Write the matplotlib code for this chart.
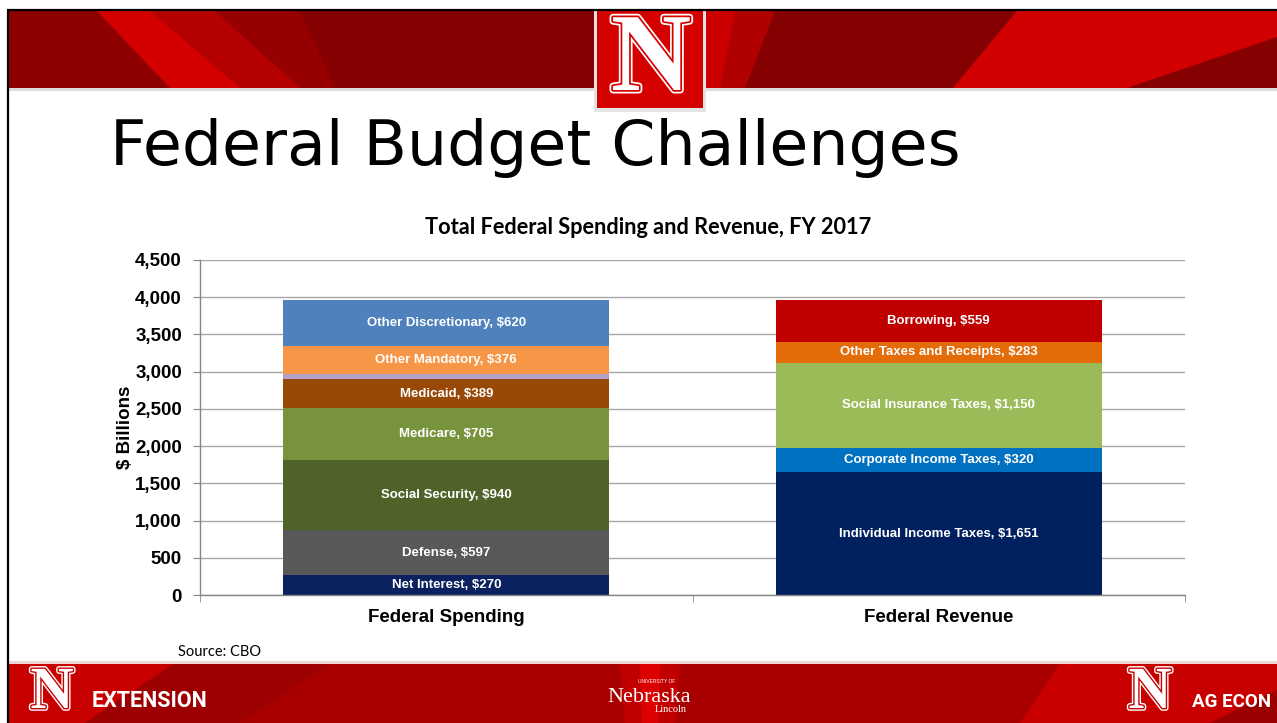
"""Federal Budget Challenges slide: stacked spending vs revenue, FY 2017."""
import numpy as np
import matplotlib.pyplot as plt
import matplotlib.patheffects as pe
from matplotlib.patches import Rectangle, Polygon
from matplotlib.ticker import FuncFormatter

plt.rcParams.update({
    'font.family': ['Liberation Sans', 'DejaVu Sans'],
    'font.size': 12,
    'figure.dpi': 100,
})

# ---------- data (billions of dollars) ----------
categories = ['Federal Spending', 'Federal Revenue']

spend_names = ['Net Interest', 'Defense', 'Social Security', 'Medicare',
               'Medicaid', '', 'Other Mandatory', 'Other Discretionary']
spend_values = [270, 597, 940, 705, 389, 66, 376, 620]
spend_colors = ['#0b2160', '#595959', '#4f6228', '#77933c',
                '#984807', '#b3a2c7', '#f79646', '#4f81bd']

rev_names = ['Individual Income Taxes', 'Corporate Income Taxes',
             'Social Insurance Taxes', 'Other Taxes and Receipts', 'Borrowing']
rev_values = [1651, 320, 1150, 283, 559]
rev_colors = ['#002060', '#0070c0', '#9bbb59', '#e36c09', '#c00000']

y_ticks = [0, 500, 1000, 1500, 2000, 2500, 3000, 3500, 4000, 4500]

W, H = 1277, 723
fig = plt.figure(figsize=(W / 100, H / 100), dpi=100)
fig.patch.set_facecolor('white')

# ---------- slide background (pixel coordinates, y down) ----------
bg = fig.add_axes([0, 0, 1, 1], zorder=0)
bg.set_xlim(0, W)
bg.set_ylim(H, 0)
bg.axis('off')

# header band
bg.add_patch(Rectangle((9, 11), W - 9, 77, color='#850000', lw=0))
bg.add_patch(Polygon([(9, 11), (97, 11), (170, 88), (9, 88)], color='#8e0000', lw=0))
bg.add_patch(Polygon([(200, 11), (300, 11), (335, 88), (290, 88)], color='#960000', lw=0))
bg.add_patch(Polygon([(140, 11), (215, 11), (300, 88), (230, 88)], color='#b40000', lw=0))
bg.add_patch(Polygon([(97, 11), (150, 11), (240, 88), (170, 88)], color='#d40000', lw=0))
bg.add_patch(Polygon([(703, 11), (775, 11), (745, 88), (703, 88)], color='#b00000', lw=0))
bg.add_patch(Polygon([(703, 11), (735, 11), (720, 88), (703, 88)], color='#cc0000', lw=0))
bg.add_patch(Polygon([(1017, 11), (W, 11), (W, 37), (1127, 88), (953, 88)],
                     color='#d20000', lw=0))
bg.add_patch(Rectangle((9, 88), W - 9, 2.5, color='#dcdcdc', lw=0))

# slide frame lines
bg.plot([7, W], [10, 10], color='black', lw=1.6, solid_capstyle='butt')
bg.plot([8, 8], [10, H], color='black', lw=1.6, solid_capstyle='butt')

# top N logo
bg.add_patch(Rectangle((594, 11), 112, 101, color='#e4e4e4', lw=0))
bg.add_patch(Rectangle((597, 11), 106, 97, color='#d50000', lw=0))
bg.text(651, 63, 'N', family=['Liberation Serif', 'DejaVu Serif'], weight='bold',
        fontsize=80, color='white', ha='center', va='center',
        path_effects=[pe.Stroke(linewidth=5, foreground='white'),
                      pe.Stroke(linewidth=2.5, foreground='#d50000'),
                      pe.Normal()])

# footer band
bg.add_patch(Rectangle((9, 663), W - 9, H - 663, color='#a80000', lw=0))
bg.add_patch(Polygon([(9, 663), (175, 663), (85, H), (9, H)], color='#c80000', lw=0))
bg.add_patch(Polygon([(175, 663), (330, 663), (240, H), (85, H)], color='#9c0000', lw=0))
bg.add_patch(Polygon([(620, 663), (680, 663), (675, H), (625, H)], color='#c00000', lw=0))
bg.add_patch(Polygon([(640, 663), (660, 663), (658, H), (642, H)], color='#dd0000', lw=0))
bg.add_patch(Polygon([(1060, 663), (W, 663), (W, H), (1020, H)], color='#c80000', lw=0))
bg.add_patch(Polygon([(1210, H), (W, 690), (W, H)], color='#9a0000', lw=0))
bg.add_patch(Rectangle((9, 661), W - 9, 2.5, color='#f1d6d6', lw=0))

n_effects = [pe.Stroke(linewidth=4, foreground='white'),
             pe.Stroke(linewidth=2, foreground='#c80000'),
             pe.Normal()]
bg.text(52, 721, 'N', family=['Liberation Serif', 'DejaVu Serif'], weight='bold',
        fontsize=43, color='white', ha='center', va='bottom', path_effects=n_effects)
bg.text(1150, 721, 'N', family=['Liberation Serif', 'DejaVu Serif'], weight='bold',
        fontsize=43, color='white', ha='center', va='bottom', path_effects=n_effects)
bg.text(92, 707, 'EXTENSION', family=['Roboto', 'DejaVu Sans'],
        weight='bold', fontsize=15.5, color='white', ha='left', va='baseline')
bg.text(1271, 707, 'AG ECON', family=['Roboto', 'DejaVu Sans'],
        weight='bold', fontsize=13.5, color='white', ha='right', va='baseline')
bg.text(649, 702, 'Nebraska', family=['Liberation Serif', 'DejaVu Serif'],
        fontsize=16, color='white', ha='center', va='baseline')
bg.text(657, 683, 'UNIVERSITY OF', family=['Liberation Sans', 'DejaVu Sans'],
        fontsize=3.5, color='white', ha='center', va='baseline')
bg.text(671, 712, 'Lincoln', family=['Liberation Serif', 'DejaVu Serif'],
        fontsize=7.5, color='white', ha='center', va='baseline')

# slide title, chart title, source
bg.text(110, 165, 'Federal Budget Challenges', family='DejaVu Sans',
        fontsize=45.5, color='black', ha='left', va='baseline')
bg.text(648, 227, 'Total Federal Spending and Revenue, FY 2017',
        family=['Lato', 'DejaVu Sans'], weight='bold', fontsize=15.7,
        color='black', ha='center', va='center')
bg.text(178, 656, 'Source: CBO', family=['Lato', 'DejaVu Sans'],
        fontsize=10.5, color='black', ha='left', va='baseline')

# ---------- chart ----------
ax = fig.add_axes([200 / W, (H - 595) / H, 985 / W, 335 / H], zorder=1)
ax.set_facecolor('none')

x = np.arange(len(categories))
bar_w = 0.662
stacks = [(spend_names, spend_values, spend_colors),
          (rev_names, rev_values, rev_colors)]
for xi, (names, values, colors) in zip(x, stacks):
    bottom = 0
    for name, v, c in zip(names, values, colors):
        ax.bar(xi, v, bar_w, bottom=bottom, color=c, linewidth=0, zorder=2)
        if name:
            ax.text(xi, bottom + v / 2, f'{name}, \\${v:,}', ha='center',
                    va='center', color='white', weight='bold', fontsize=9.5,
                    zorder=3)
        bottom += v

ax.set_xlim(-0.5, 1.5)
ax.set_ylim(0, 4500)
ax.set_yticks(y_ticks)
ax.yaxis.set_major_formatter(FuncFormatter(lambda v, _: f'{int(v):,}'))
ax.set_xticks(x)
ax.set_xticklabels(categories)
ax.set_xticks([-0.5, 0.5, 1.5], minor=True)
ax.tick_params(axis='x', which='major', length=0, pad=10, labelsize=13.5)
ax.tick_params(axis='x', which='minor', length=5, color='#868686')
ax.tick_params(axis='y', length=5, color='#868686', pad=8, labelsize=13.5)
for lab in ax.get_xticklabels() + ax.get_yticklabels():
    lab.set_fontweight('bold')
ax.set_ylabel('\\$ Billions', weight='bold', fontsize=13.5, labelpad=1)
ax.yaxis.grid(True, color='#a6a6a6', linewidth=1)
ax.set_axisbelow(True)
for side in ('top', 'right'):
    ax.spines[side].set_visible(False)
for side in ('left', 'bottom'):
    ax.spines[side].set_color('#868686')
    ax.spines[side].set_linewidth(1)

fig.savefig('out.png', dpi=100)
plt.close(fig)
print('Saved out.png')
